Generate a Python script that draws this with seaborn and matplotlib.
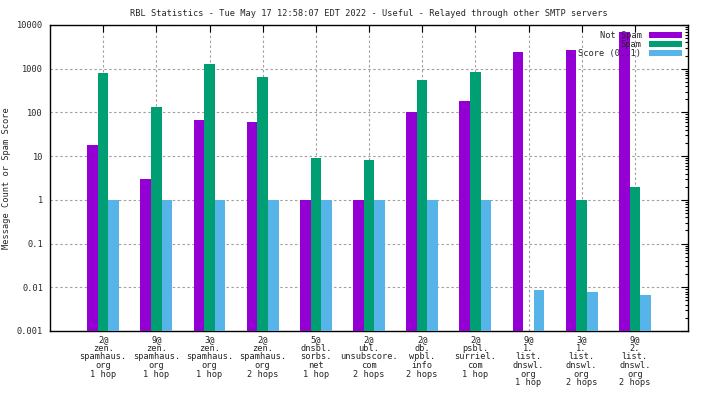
import pandas as pd
import matplotlib
matplotlib.use("Agg")
import matplotlib.pyplot as plt
import seaborn as sns

# Reading values off the reference chart (log scale)
labels = [
    "2@\nzen.\nspamhaus.\norg\n1 hop",
    "9@\nzen.\nspamhaus.\norg\n1 hop",
    "3@\nzen.\nspamhaus.\norg\n1 hop",
    "2@\nzen.\nspamhaus.\norg\n2 hops",
    "5@\ndnsbl.\nsorbs.\nnet\n1 hop",
    "2@\nubl.\nunsubscore.\ncom\n2 hops",
    "2@\ndb.\nwpbl.\ninfo\n2 hops",
    "2@\npsbl.\nsurriel.\ncom\n1 hop",
    "9@\n1.\nlist.\ndnswl.\norg\n1 hop",
    "3@\n1.\nlist.\ndnswl.\norg\n2 hops",
    "9@\n2.\nlist.\ndnswl.\norg\n2 hops",
]
not_spam = [18, 3, 66, 60, 1, 1, 100, 180, 2450, 2750, 7000]
spam = [780, 130, 1300, 630, 9, 8, 540, 820, 0, 1, 2]
score = [1, 1, 1, 1, 1, 1, 1, 1, 0.0085, 0.0077, 0.0066]

series = ["Not Spam", "Spam", "Score (0..1)"]
colors = ["#9400d3", "#009e73", "#56b4e9"]

rows = []
for i, lab in enumerate(labels):
    rows.append((lab, series[0], not_spam[i]))
    rows.append((lab, series[1], spam[i]))
    rows.append((lab, series[2], score[i]))
df = pd.DataFrame(rows, columns=["rbl", "series", "value"])

sns.set_style("white")
plt.rcParams["font.family"] = ["DejaVu Sans Mono"]
fs = 6.2

fig = plt.figure(figsize=(7.04, 3.96), dpi=100)
ax = fig.add_axes([50 / 704, 1 - 331 / 396, 638 / 704, 306 / 396])

sns.barplot(
    data=df, x="rbl", y="value", hue="series",
    palette=colors, width=0.6, errorbar=None,
    saturation=1, ax=ax, zorder=3, linewidth=0
)

ax.set_yscale("log")
ax.set_ylim(0.001, 10000)
ax.set_xlim(-1, len(labels))
ax.set_yticks([0.001, 0.01, 0.1, 1, 10, 100, 1000, 10000])
ax.set_yticklabels(["0.001", "0.01", "0.1", "1", "10", "100", "1000", "10000"])
ax.set_xticks(range(len(labels)))
ax.set_xticklabels(labels, fontsize=fs, linespacing=0.95)

ax.grid(True, which="major", linestyle=(0, (2.2, 2.2)), color="#a0a0a0", linewidth=0.8, zorder=0)
ax.tick_params(axis="both", which="both", direction="in", top=True, right=True,
               labelsize=fs, color="black")
ax.tick_params(axis="both", which="major", length=5, width=0.8)
ax.tick_params(axis="y", which="minor", length=2.5, width=0.8)
ax.tick_params(axis="x", which="major", pad=3)
ax.tick_params(axis="y", which="major", pad=5)
for s in ax.spines.values():
    s.set_visible(True)
    s.set_color("black")
    s.set_linewidth(1)

ax.set_xlabel("")
ax.set_ylabel("Message Count or Spam Score", fontsize=fs, labelpad=4)
ax.set_title("RBL Statistics - Tue May 17 12:58:07 EDT 2022 - Useful - Relayed through other SMTP servers",
             fontsize=fs, pad=6.5)

ax.legend(loc="upper right", frameon=False, markerfirst=False, fontsize=fs,
          handlelength=3.8, handleheight=0.55, labelspacing=0.0,
          borderaxespad=0.3, handletextpad=0.9)

fig.savefig("out.png", dpi=100)
